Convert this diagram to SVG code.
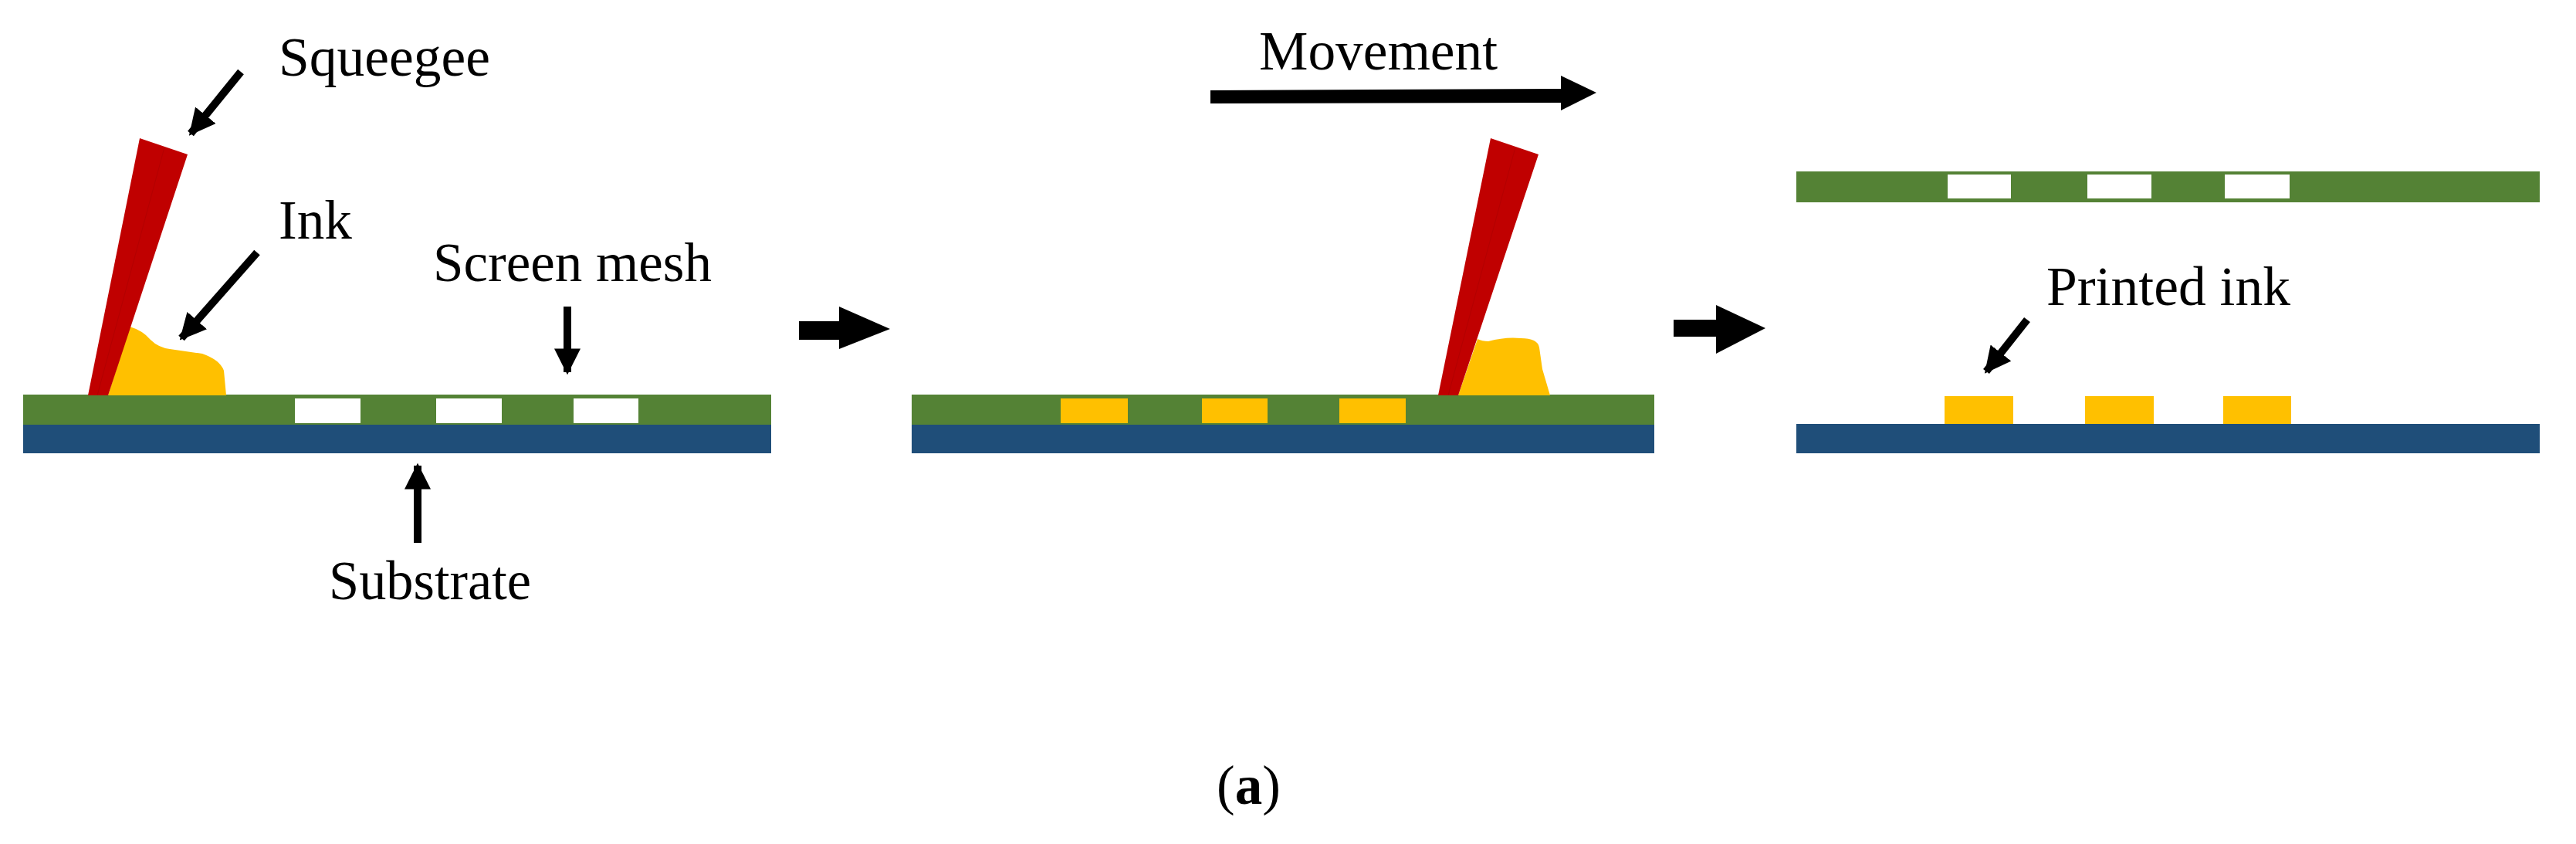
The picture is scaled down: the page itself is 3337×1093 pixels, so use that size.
<svg xmlns="http://www.w3.org/2000/svg" width="3337" height="1093" viewBox="0 0 3337 1093">
<defs>
<style>
.t{font-family:"Liberation Serif","Times New Roman",serif;font-size:71px;fill:#000}
.mesh{fill:#548235}.sub{fill:#1F4E79}.ink{fill:#FFC000}.sq{fill:#C00000}.hole{fill:#fff}
.ln{stroke:#000;stroke-width:10;fill:none}
</style>
<marker id="ah" viewBox="0 0 10 10" refX="9" refY="5" markerWidth="3.4" markerHeight="3.4" orient="auto" markerUnits="strokeWidth"><path d="M0,0L10,5L0,10z" fill="#000"/></marker>
</defs>
<rect width="3337" height="1093" fill="#fff"/>
<g id="panel1">
<rect class="mesh" x="30" y="511" width="969" height="39"/>
<rect class="sub" x="30" y="550" width="969" height="37"/>
<rect class="hole" x="382" y="516" width="85" height="32"/>
<rect class="hole" x="565" y="516" width="85" height="32"/>
<rect class="hole" x="743" y="516" width="84" height="32"/>
<path class="ink" d="M140,512L168,423Q185,428 195,440Q205,450 220,452L262,458Q285,466 290,480L293,512Z"/>
<path class="sq" d="M181,179L243,200L140,512L114,512Z"/>
<path d="M213,191L126,512" stroke="#A00000" stroke-width="1" opacity="0.4"/>
</g>
<g id="panel2">
<rect class="mesh" x="1181" y="511" width="962" height="39"/>
<rect class="sub" x="1181" y="550" width="962" height="37"/>
<rect class="ink" x="1374" y="516" width="87" height="32"/>
<rect class="ink" x="1557" y="516" width="85" height="32"/>
<rect class="ink" x="1735" y="516" width="86" height="32"/>
<path class="ink" d="M1889,512L1914,439Q1920,442 1928,442Q1950,436 1970,438Q1992,438 1994,450L1998,478L2008,512Z"/>
<path class="sq" d="M1931,179L1993,200L1889,512L1863,512Z"/>
<path d="M1963,191L1876,512" stroke="#A00000" stroke-width="1" opacity="0.4"/>
</g>
<g id="panel3">
<rect class="mesh" x="2327" y="222" width="963" height="40"/>
<rect class="hole" x="2523" y="226" width="82" height="31"/>
<rect class="hole" x="2704" y="226" width="83" height="31"/>
<rect class="hole" x="2882" y="226" width="84" height="31"/>
<rect class="sub" x="2327" y="549" width="963" height="38"/>
<rect class="ink" x="2519" y="513" width="89" height="36"/>
<rect class="ink" x="2701" y="513" width="89" height="36"/>
<rect class="ink" x="2880" y="513" width="88" height="36"/>
</g>
<g id="labels">
<text class="t" x="361" y="98" textLength="274" lengthAdjust="spacingAndGlyphs">Squeegee</text>
<text class="t" x="361" y="309" textLength="95" lengthAdjust="spacingAndGlyphs">Ink</text>
<text class="t" x="561" y="364" textLength="361" lengthAdjust="spacingAndGlyphs">Screen mesh</text>
<text class="t" x="426" y="776" textLength="262" lengthAdjust="spacingAndGlyphs">Substrate</text>
<text class="t" x="1631" y="90" textLength="309" lengthAdjust="spacingAndGlyphs">Movement</text>
<text class="t" x="2651" y="395" textLength="316" lengthAdjust="spacingAndGlyphs">Printed ink</text>
<text class="t" x="1576" y="1041" font-size="74">(<tspan font-weight="bold">a</tspan>)</text>
</g>
<g id="connectors">
<line class="ln" x1="312" y1="93" x2="247" y2="173" marker-end="url(#ah)"/>
<line class="ln" x1="333" y1="327" x2="235" y2="438" marker-end="url(#ah)"/>
<line class="ln" x1="735" y1="397" x2="735" y2="482" marker-end="url(#ah)"/>
<line class="ln" x1="541" y1="703" x2="541" y2="603" marker-end="url(#ah)"/>
<line class="ln" x1="2626" y1="414" x2="2573" y2="481" marker-end="url(#ah)"/>
<path d="M1568,117L2022,115L2022,98L2068,120L2022,143L2022,133L1568,134Z" fill="#000"/>
<path d="M1035,416L1087,416L1087,397L1153,426L1087,452L1087,440L1035,440Z" fill="#000"/>
<path d="M2168,414L2223,414L2223,395L2287,425L2223,458L2223,436L2168,436Z" fill="#000"/>
</g>
</svg>
